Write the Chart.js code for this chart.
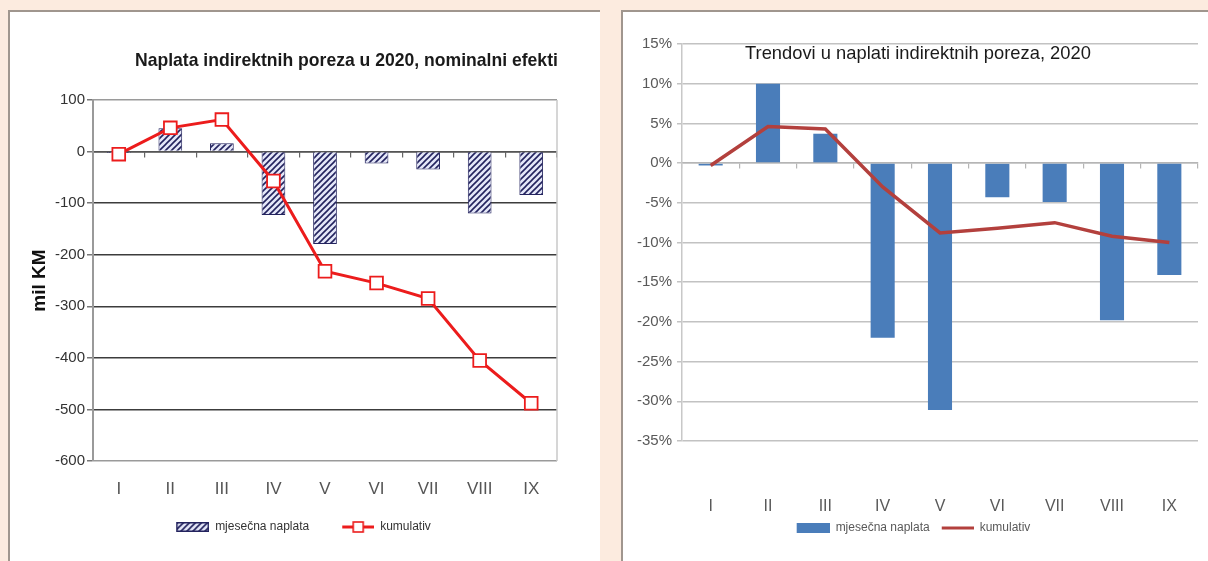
<!DOCTYPE html>
<html>
<head>
<meta charset="utf-8">
<script src="https://cdn.jsdelivr.net/npm/chart.js@4.4.1/dist/chart.umd.min.js"></script>
<style>
  html, body { margin: 0; padding: 0; }
  body { width: 1208px; height: 561px; background: #fcebdf; position: relative; overflow: hidden;
         font-family: "Liberation Sans", Arial, sans-serif; }
  .panel { position: absolute; background: #fff; border-left: 2px solid #a0968e; border-top: 2px solid #a0968e; }
  #leftPanel { left: 8px; top: 10px; width: 590px; height: 560px; }
  #rightPanel { left: 621px; top: 10px; width: 587px; height: 560px; }
  .box { position: absolute; }
  #leftBox { left: 10px; top: 12px; width: 588px; height: 549px; }
  #rightBox { left: 623px; top: 12px; width: 585px; height: 549px; }
  .title { position: absolute; white-space: nowrap; color: #1a1a1a; transform-origin: 0 0; }
  #leftTitle { left: 135px; top: 49px; font-size: 19px; font-weight: bold; transform: scaleX(0.925); }
  #rightTitle { left: 745px; top: 42px; font-size: 19px; transform: scaleX(0.965); }
</style>
</head>
<body>
<div class="panel" id="leftPanel"></div>
<div class="panel" id="rightPanel"></div>
<div class="box" id="leftBox"><canvas id="leftChart"></canvas></div>
<div class="box" id="rightBox"><canvas id="rightChart"></canvas></div>
<div class="title" id="leftTitle">Naplata indirektnih poreza u 2020, nominalni efekti</div>
<div class="title" id="rightTitle">Trendovi u naplati indirektnih poreza, 2020</div>

<script>
// data
const months = ['I', 'II', 'III', 'IV', 'V', 'VI', 'VII', 'VIII', 'IX'];
const monthlyKM = [-3, 45, 16, -123, -179, -23, -35, -120, -84];
const cumulativeKM = [-5, 46, 62, -57, -232, -255, -285, -405, -488];
const monthlyPct = [-0.3, 10, 3.7, -22, -31.1, -4.3, -4.9, -19.8, -14.1];
const cumulativePct = [-0.3, 4.6, 4.3, -3, -8.8, -8.2, -7.5, -9.2, -10];
const seriesNames = ['mjesečna naplata', 'kumulativ'];
const yTitleKM = 'mil KM';

const FONT = '"Liberation Sans", Arial, sans-serif';
const navy = '#23235e';
const red = '#ec1c1c';
const blue = '#4a7dba';
const darkRed = '#b3403d';

function makeHatch() {
    let c = document.createElement('canvas');
    c.width = 6; c.height = 6;
    let g = c.getContext('2d');
    g.fillStyle = '#e4e7f8';
    g.fillRect(0, 0, 6, 6);
    g.strokeStyle = navy;
    g.lineWidth = 1.6;
    g.beginPath();
    g.moveTo(0, 6); g.lineTo(6, 0);
    g.moveTo(-3, 3); g.lineTo(3, -3);
    g.moveTo(3, 9); g.lineTo(9, 3);
    g.stroke();
    return g.createPattern(c, 'repeat');
}
const hatch = makeHatch();

// legend icons are drawn right-aligned in a canvas of width w, the blank lead gives the gap between items
function barIcon(w, fill, border) {
    let c = document.createElement('canvas');
    c.width = w; c.height = 10;
    let g = c.getContext('2d');
    let x = w - 33;
    g.fillStyle = fill;
    g.fillRect(x, 0, 33, 10);
    if (border) {
        g.strokeStyle = border;
        g.lineWidth = 1.5;
        g.strokeRect(x + 0.75, 0.75, 31.5, 8.5);
    }
    return c;
}

function lineIcon(w, color, width, marker) {
    let c = document.createElement('canvas');
    c.width = w; c.height = 12;
    let g = c.getContext('2d');
    let x = w - 32;
    g.strokeStyle = color;
    g.lineWidth = width;
    g.beginPath(); g.moveTo(x, 6); g.lineTo(x + 32, 6); g.stroke();
    if (marker) {
        g.fillStyle = '#fff';
        g.fillRect(x + 11, 1, 10, 10);
        g.lineWidth = 1.6;
        g.strokeRect(x + 11, 1, 10, 10);
    }
    return c;
}

function legendItems(icons, color) {
    return function () {
        return seriesNames.map(function (name, i) {
            return {
                text: name, pointStyle: icons[i], fillStyle: 'transparent',
                strokeStyle: 'transparent', lineWidth: 0, hidden: false,
                datasetIndex: i, fontColor: color
            };
        });
    };
}

// light frame line on the right of the plot area
const rightEdge = {
    id: 'rightEdge',
    afterDraw(chart, args, opts) {
        if (!opts.color) return;
        const a = chart.chartArea, ctx = chart.ctx;
        ctx.save();
        ctx.strokeStyle = opts.color;
        ctx.lineWidth = 1.5;
        ctx.beginPath();
        ctx.moveTo(a.right, a.top);
        ctx.lineTo(a.right, a.bottom);
        ctx.stroke();
        ctx.restore();
    }
};

new Chart(document.getElementById('leftChart'), {
    type: 'bar',
    data: {
        labels: months,
        datasets: [{
            label: seriesNames[0],
            data: monthlyKM,
            backgroundColor: hatch,
            borderColor: navy,
            borderWidth: 1,
            barPercentage: 0.46,
            categoryPercentage: 1,
            order: 1
        }, {
            type: 'line',
            label: seriesNames[1],
            data: cumulativeKM,
            borderColor: red,
            borderWidth: 3,
            pointStyle: 'rect',
            pointRadius: 9,
            pointBackgroundColor: '#fff',
            pointBorderColor: red,
            pointBorderWidth: 1.8,
            tension: 0,
            order: 0
        }]
    },
    options: {
        responsive: true,
        maintainAspectRatio: false,
        animation: false,
        layout: { padding: { left: 18, right: 41, top: 88, bottom: 18 } },
        scales: {
            x: {
                grid: { display: false, drawTicks: false },
                border: { display: false },
                ticks: { font: { family: FONT, size: 17 }, color: '#555', padding: 18 },
                afterFit: function (s) { s.height = 50; s.paddingLeft = 0; s.paddingRight = 0; }
            },
            x0: {
                type: 'category',
                position: { y: 0 },
                offset: true,
                ticks: { display: false },
                grid: { offset: true, drawOnChartArea: false, tickLength: 5, color: '#666', lineWidth: 1.2 },
                border: { color: '#555', width: 1.5 }
            },
            y: {
                min: -600,
                max: 100,
                ticks: { stepSize: 100, font: { family: FONT, size: 15 }, color: '#333', padding: 2 },
                grid: {
                    color: function (c) { return (c.tick && (c.tick.value === 100 || c.tick.value === -600)) ? '#9a9a9a' : '#3c3c3c'; },
                    lineWidth: 1.5,
                    tickLength: 6,
                    tickColor: '#777'
                },
                border: { color: '#9a9a9a', width: 2 },
                title: { display: true, text: yTitleKM, font: { family: FONT, size: 19, weight: 'bold' }, color: '#111', padding: 0 },
                afterFit: function (s) { s.width = 65; }
            }
        },
        plugins: {
            rightEdge: { color: '#c8c8c8' },
            tooltip: { enabled: false },
            legend: {
                position: 'bottom',
                labels: {
                    usePointStyle: true,
                    pointStyleWidth: 55,
                    font: { family: FONT, size: 12 },
                    padding: 10,
                    generateLabels: legendItems([barIcon(55, hatch, navy), lineIcon(55, red, 3, true)], '#333')
                }
            }
        }
    },
    plugins: [rightEdge]
});

new Chart(document.getElementById('rightChart'), {
    type: 'bar',
    data: {
        labels: months,
        datasets: [{
            label: seriesNames[0],
            data: monthlyPct,
            backgroundColor: blue,
            borderWidth: 0,
            barPercentage: 0.42,
            categoryPercentage: 1,
            order: 1
        }, {
            type: 'line',
            label: seriesNames[1],
            data: cumulativePct,
            borderColor: darkRed,
            borderWidth: 3.5,
            pointRadius: 0,
            tension: 0,
            order: 0
        }]
    },
    options: {
        responsive: true,
        maintainAspectRatio: false,
        animation: false,
        layout: { padding: { left: 0, right: 10, top: 32, bottom: 17 } },
        scales: {
            x: {
                grid: { display: false, drawTicks: false },
                border: { display: false },
                ticks: { font: { family: FONT, size: 16 }, color: '#595959', padding: 56 },
                afterFit: function (s) { s.height = 76; s.paddingLeft = 0; s.paddingRight = 0; }
            },
            x0: {
                type: 'category',
                position: { y: 0 },
                offset: true,
                ticks: { display: false },
                grid: { offset: true, drawOnChartArea: false, tickLength: 5, color: '#b5b5b5', lineWidth: 1.2 },
                border: { color: '#b5b5b5', width: 1.5 }
            },
            y: {
                min: -35,
                max: 15,
                ticks: {
                    stepSize: 5,
                    font: { family: FONT, size: 15 },
                    color: '#595959',
                    padding: 5,
                    callback: function (v) { return v + '%'; }
                },
                grid: { color: '#c2c2c2', lineWidth: 1.5, tickLength: 5 },
                border: { color: '#c8c8c8', width: 1.5 },
                afterFit: function (s) { s.width = 59; }
            }
        },
        plugins: {
            tooltip: { enabled: false },
            legend: {
                position: 'bottom',
                labels: {
                    usePointStyle: true,
                    pointStyleWidth: 39,
                    font: { family: FONT, size: 12 },
                    padding: 5,
                    generateLabels: legendItems([barIcon(39, blue), lineIcon(39, darkRed, 3, false)], '#595959')
                }
            }
        }
    }
});
</script>
</body>
</html>
